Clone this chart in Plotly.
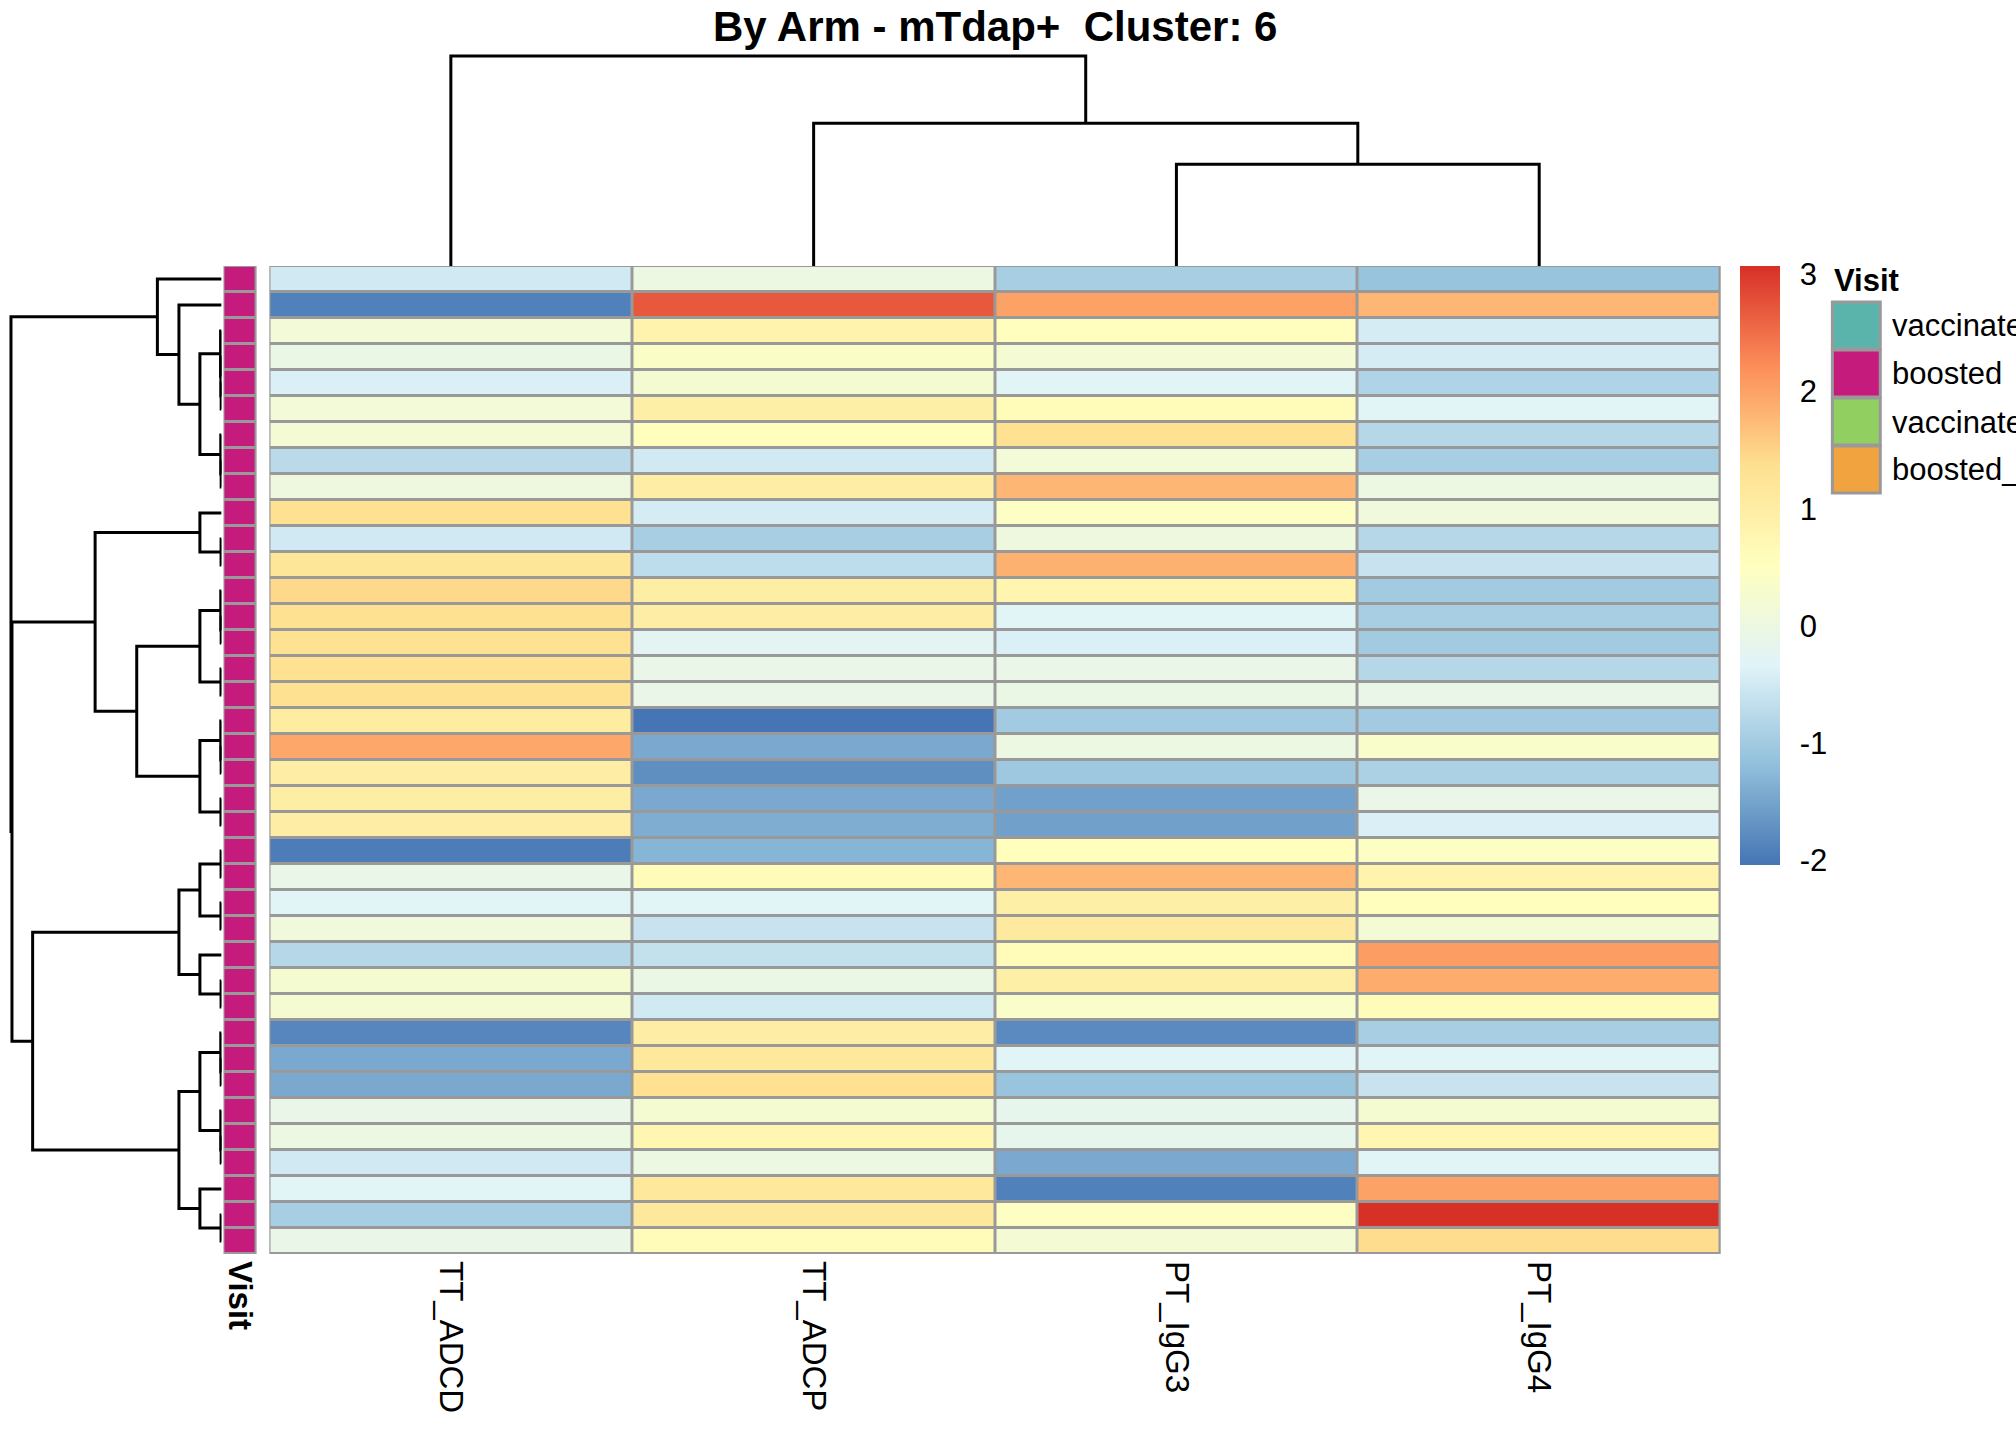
import plotly.graph_objects as go

# --- data ---
features = ["TT_ADCD", "TT_ADCP", "PT_IgG3", "PT_IgG4"]

tt_adcd = [-0.5, -1.9, 0.15, -0.05, -0.4, 0.15, 0.2, -0.75, 0.05, 1.35,
           -0.5, 1.2, 1.45, 1.35, 1.35, 1.35, 1.35, 1.05, 1.95, 1.0,
           1.0, 1.0, -1.95, -0.1, -0.3, 0.1, -0.8, 0.25, 0.25, -1.85,
           -1.45, -1.45, -0.1, 0.0, -0.5, -0.3, -0.95, -0.1]
tt_adcp = [0.0, 2.7, 0.85, 0.4, 0.25, 0.95, 0.55, -0.5, 1.0, -0.45,
           -0.95, -0.7, 1.0, 1.0, -0.25, -0.1, -0.1, -2.04, -1.45, -1.75,
           -1.45, -1.4, -1.3, 0.6, -0.3, -0.6, -0.65, -0.05, -0.5, 1.0,
           1.15, 1.35, 0.25, 0.75, 0.0, 1.15, 1.15, 0.6]
pt_igg3 = [-0.95, 2.0, 0.53, 0.2, -0.3, 0.6, 1.35, 0.15, 1.8, 0.45,
           0.05, 1.85, 0.8, -0.3, -0.4, -0.1, -0.05, -1.0, 0.0, -1.05,
           -1.55, -1.55, 0.55, 1.8, 0.95, 1.1, 0.6, 0.95, 0.35, -1.8,
           -0.3, -1.1, -0.15, -0.15, -1.45, -1.9, 0.45, 0.2]
pt_igg4 = [-1.1, 1.8, -0.45, -0.45, -0.85, -0.3, -0.8, -0.95, 0.0, 0.1,
           -0.8, -0.6, -1.0, -0.95, -1.0, -0.8, -0.1, -1.0, 0.35, -0.9,
           -0.1, -0.4, 0.45, 0.85, 0.55, 0.2, 2.05, 1.9, 0.6, -0.95,
           -0.3, -0.6, 0.25, 0.75, -0.3, 2.0, 3.07, 1.4]

visit = ["boosted"] * 38
visit_levels = ["vaccinated", "boosted", "vaccinated_2", "boosted_2"]
visit_colors = ["#5AB4AC", "#C51B7D", "#91CF60", "#F1A340"]

colorbar_ticks = [-2, -1, 0, 1, 2, 3]

# hclust-style merges (negative = leaf in display order), heights in px
row_merges = [(-5, -6), (-4, 1), (-3, 2), (-8, -9), (-7, 4), (3, 5), (-2, 6), (-1, 7),
              (-11, -12), (-10, 9), (-14, -15), (-13, 11), (-16, -17), (12, 13),
              (-19, -20), (-18, 15), (-21, -22), (16, 17), (14, 18), (10, 19),
              (-23, -24), (-25, -26), (21, 22), (-28, -29), (-27, 24), (23, 25),
              (-31, -32), (-30, 27), (-34, -35), (-33, 29), (28, 30), (-37, -38),
              (-36, 32), (31, 33), (26, 34), (20, 35), (8, 36)]
row_heights = [0.4, 0.7, 1.0, 0.4, 0.8, 21.7, 42.7, 64.3,
               0.5, 21.7, 0.4, 0.8, 0.6, 21.7,
               0.4, 0.8, 0.6, 21.7, 85, 126.7,
               0.5, 0.6, 21.7, 0.5, 21.7, 42.7,
               0.4, 0.8, 0.4, 0.8, 21.7, 0.5,
               21.7, 42.7, 189.3, 210, 211]
col_merges = [(-3, -4), (-2, 1), (-1, 2)]
col_heights = [101.7, 142.7, 210]

# RdYlBu (7, reversed) like pheatmap default
rdylbu = ["#4575B4", "#91BFDB", "#E0F3F8", "#FFFFBF", "#FEE090", "#FC8D59", "#D73027"]

W, H = 2016, 1440
GREY = "#999999"
FONT = "Liberation Sans, Arial, sans-serif"


def px(v):
    return v / W


def py(v):
    return 1 - v / H


def dx(a, b):
    return [px(a), px(b)]


def dy(top, bottom):
    return [py(bottom), py(top)]


def dendro(merges, heights, leaf0):
    pos, hh = {}, {}
    p_list, h_list = [], []
    for k, ((a, b), h) in enumerate(zip(merges, heights), start=1):
        pa, ha = (-a - 1 + leaf0, 0) if a < 0 else (pos[a], hh[a])
        pb, hb = (-b - 1 + leaf0, 0) if b < 0 else (pos[b], hh[b])
        p_list += [pa, pa, pb, pb, None]
        h_list += [ha, h, h, hb, None]
        pos[k] = (pa + pb) / 2
        hh[k] = h
    return p_list, h_list


n = len(tt_adcd)
rows = list(range(1, n + 1))
z = [list(r) for r in zip(tt_adcd, tt_adcp, pt_igg3, pt_igg4)]
zmin = min(min(r) for r in z)
zmax = max(max(r) for r in z)
cscale = [[i / (len(rdylbu) - 1), c] for i, c in enumerate(rdylbu)]

fig = go.Figure()

fig.add_trace(go.Heatmap(
    z=z, x=list(range(len(features))), y=rows,
    zmin=zmin, zmax=zmax, colorscale=cscale,
    xgap=3, ygap=3, hoverinfo="skip",
    colorbar=dict(
        x=px(1742), xanchor="left", y=py(266), yanchor="top",
        lenmode="pixels", len=599, thickness=40, thicknessmode="pixels",
        outlinewidth=0, xpad=0, ypad=0,
        tickvals=colorbar_ticks, ticktext=[str(t) for t in colorbar_ticks],
        ticks="outside", ticklen=14, tickcolor="white",
        tickfont=dict(size=31, color="black", family=FONT)
    )
))

# annotation column
code = {v: i for i, v in enumerate(visit_levels)}
ann_scale = []
for i, c in enumerate(visit_colors):
    ann_scale += [[i / len(visit_colors), c], [(i + 1) / len(visit_colors), c]]
fig.add_trace(go.Heatmap(
    z=[[code[v]] for v in visit], x=[0], y=rows,
    zmin=-0.5, zmax=len(visit_levels) - 0.5, colorscale=ann_scale, showscale=False,
    xgap=3, ygap=3, hoverinfo="skip", xaxis="x2", yaxis="y2"
))

# row dendrogram
rp, rh = dendro(row_merges, row_heights, 1)
fig.add_trace(go.Scatter(x=rh, y=rp, mode="lines", line=dict(color="black", width=3),
                         hoverinfo="skip", showlegend=False, xaxis="x3", yaxis="y3"))

# column dendrogram
cp, ch = dendro(col_merges, col_heights, 0)
fig.add_trace(go.Scatter(x=cp, y=ch, mode="lines", line=dict(color="black", width=3),
                         hoverinfo="skip", showlegend=False, xaxis="x4", yaxis="y4"))

shapes = [
    dict(type="rect", xref="x", yref="y", x0=-0.5, x1=len(features) - 0.5, y0=0.5, y1=n + 0.5,
         fillcolor=GREY, line=dict(color=GREY, width=3), layer="below"),
    dict(type="rect", xref="x2", yref="y2", x0=-0.5, x1=0.5, y0=0.5, y1=n + 0.5,
         fillcolor=GREY, line=dict(color=GREY, width=3), layer="below"),
]
annotations = [
    dict(text="<b>By Arm - mTdap+  Cluster: 6</b>", x=px(996), y=py(26),
         xref="paper", yref="paper", xanchor="center", yanchor="middle", showarrow=False,
         font=dict(size=42, family=FONT, color="black")),
    dict(text="<b>Visit</b>", x=px(1835), y=py(281), xref="paper", yref="paper",
         xanchor="left", yanchor="middle", showarrow=False,
         font=dict(size=31, family=FONT, color="black")),
]
for i, (lab, col) in enumerate(zip(visit_levels, visit_colors)):
    top = 302 + 48 * i
    shapes.append(dict(type="rect", xref="paper", yref="paper",
                       x0=px(1835), x1=px(1883), y0=py(top + 47), y1=py(top),
                       fillcolor=col, line=dict(color=GREY, width=3)))
    annotations.append(dict(text=lab, x=px(1893), y=py(top + 24),
                            xref="paper", yref="paper", xanchor="left", yanchor="middle",
                            showarrow=False, font=dict(size=31, family=FONT, color="black")))

hidden = dict(showgrid=False, zeroline=False, showticklabels=False, ticks="", showline=False)

fig.update_layout(
    width=W, height=H,
    margin=dict(l=0, r=0, t=0, b=0),
    paper_bgcolor="white", plot_bgcolor="white",
    font=dict(family=FONT, color="black"),
    showlegend=False,
    xaxis=dict(domain=dx(269, 1723), range=[-0.5, len(features) - 0.5],
               tickvals=list(range(len(features))), ticktext=features, tickangle=90,
               ticks="", showgrid=False, zeroline=False, tickfont=dict(size=33),
               ticklabelstandoff=6, anchor="y"),
    yaxis=dict(domain=dy(266, 1254), range=[n + 0.5, 0.5], anchor="x", **hidden),
    xaxis2=dict(domain=dx(223, 256), range=[-0.5, 0.5], tickvals=[0],
                ticktext=["<b>Visit</b>"], tickangle=90, ticks="", showgrid=False,
                zeroline=False, tickfont=dict(size=33), ticklabelstandoff=6, anchor="y2"),
    yaxis2=dict(domain=dy(266, 1254), range=[n + 0.5, 0.5], anchor="x2", **hidden),
    xaxis3=dict(domain=dx(8, 221), range=[213, 0], anchor="y3", **hidden),
    yaxis3=dict(domain=dy(266, 1254), range=[n + 0.5, 0.5], anchor="x3", **hidden),
    xaxis4=dict(domain=dx(269, 1723), range=[-0.5, len(features) - 0.5], anchor="y4", **hidden),
    yaxis4=dict(domain=dy(50, 266), range=[0, 216], anchor="x4", **hidden),
    shapes=shapes,
    annotations=annotations,
)

# drop the default body margin so the figure sits at the page origin
fig.write_html("out.html", config={"displayModeBar": False},
               post_script="document.body.style.margin='0';")
